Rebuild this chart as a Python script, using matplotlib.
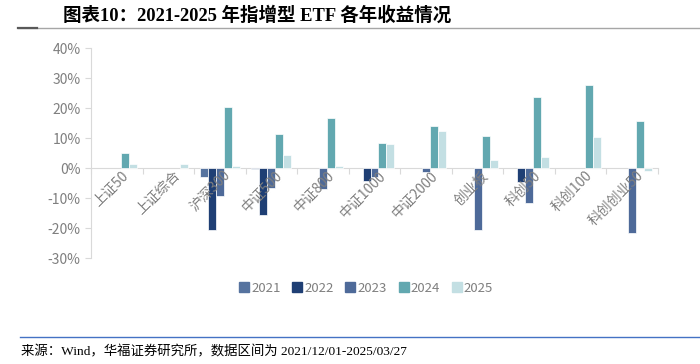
import numpy as np
import matplotlib

matplotlib.use("Agg")
import matplotlib.pyplot as plt
from matplotlib.lines import Line2D

plt.rcParams["font.family"] = ["Noto Sans CJK SC", "DejaVu Sans"]

categories = ["上证50", "上证综合", "沪深300", "中证500", "中证800", "中证1000",
              "中证2000", "创业板", "科创50", "科创100", "科创创业50"]
years = ["2021", "2022", "2023", "2024", "2025"]
# yearly returns in %, NaN = no bar
r2021 = [np.nan, np.nan, -3.0, -0.4, np.nan, np.nan, np.nan, np.nan, np.nan, np.nan, np.nan]
r2022 = [np.nan, np.nan, -20.8, -15.7, np.nan, -4.4, np.nan, np.nan, -4.7, np.nan, np.nan]
r2023 = [np.nan, np.nan, -9.4, -6.6, -7.0, -3.1, -1.2, -20.8, -11.7, np.nan, -21.6]
r2024 = [5.1, np.nan, 20.3, 11.5, 16.6, 8.3, 13.9, 10.8, 23.7, 27.6, 15.7]
r2025 = [1.3, 1.3, 0.7, 4.5, 0.6, 8.1, 12.3, 2.8, 3.7, 10.2, -1.1]
series = [r2021, r2022, r2023, r2024, r2025]
colors = ["#56739F", "#1F3F74", "#4E6A99", "#62A8B0", "#C3DFE3"]

fig = plt.figure(figsize=(7, 3.64), dpi=100)
ax = fig.add_axes([0.13, 0.291, 0.81, 0.577])

x = np.arange(len(categories))
w = 0.155
for i, (vals, c, yr) in enumerate(zip(series, colors, years)):
    ax.bar(x + (i - 2) * w, np.array(vals) / 100, w, color=c, edgecolor="white",
           linewidth=0.5, label=yr, zorder=2)

ax.set_xlim(-0.5, len(categories) - 0.5)
ax.set_ylim(-0.30, 0.40)
ax.set_yticks(np.arange(-0.3, 0.41, 0.1))
ax.set_yticklabels([f"{v:.0f}%" for v in np.arange(-30, 41, 10)])
for s in ["top", "right"]:
    ax.spines[s].set_visible(False)
ax.spines["left"].set_color("#D9D9D9")
ax.spines["bottom"].set_color("#D9D9D9")
ax.spines["bottom"].set_position(("data", 0))
ax.spines["bottom"].set_zorder(1)
ax.tick_params(axis="y", colors="#D9D9D9", labelcolor="#7F7F7F", labelsize=10,
               length=4, direction="out")

# category boundary ticks on the zero line, labels rotated below it
ax.set_xticks(np.arange(-0.5, len(categories), 1.0))
ax.set_xticklabels([])
ax.tick_params(axis="x", colors="#D9D9D9", length=4, direction="out")
for xi, lab in zip(x, categories):
    ax.text(xi + 0.08, -0.002, lab, rotation=45, ha="right", va="top",
            rotation_mode="anchor", fontsize=10, color="#7F7F7F", zorder=3)

handles = [Line2D([], [], marker="s", linestyle="", markersize=6.5, color=c)
           for c in colors]
fig.legend(handles, years, loc="center", bbox_to_anchor=(0.522, 0.208), ncol=5,
           frameon=False, fontsize=9.5, labelcolor="#7F7F7F", handletextpad=0.05,
           columnspacing=0.75, handlelength=1.0)

# title and rules
fig.text(0.09, 0.958, "图表10：2021-2025 年指增型 ETF 各年收益情况", fontsize=13.3,
         fontweight="bold", va="center", ha="left",
         family=["Liberation Serif", "Noto Sans CJK SC"])
fig.add_artist(Line2D([0.026, 1.0], [0.923, 0.923], color="#A6A6A6", lw=1.0))
fig.add_artist(Line2D([0.026, 0.053], [0.923, 0.923], color="#595959", lw=1.6))
fig.add_artist(Line2D([0.029, 1.0], [0.074, 0.074], color="#4472C4", lw=1.0))
fig.text(0.03, 0.033, "来源：Wind，华福证券研究所，数据区间为 2021/12/01-2025/03/27",
         fontsize=9.65, va="center", ha="left",
         family=["Liberation Serif", "Noto Sans CJK SC"])

fig.savefig("out.png", dpi=100)
